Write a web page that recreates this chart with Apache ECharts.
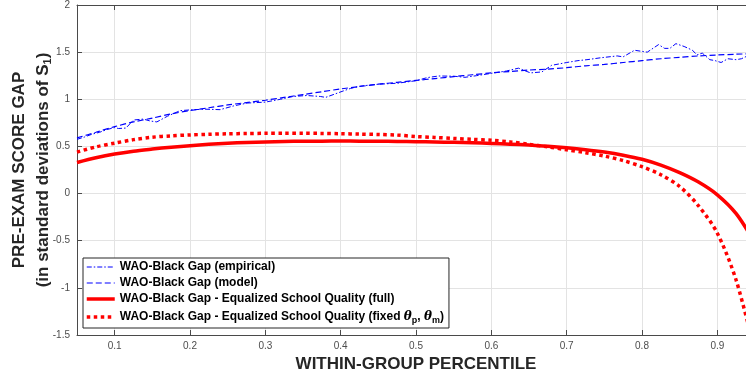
<!DOCTYPE html>
<html>
<head>
<meta charset="utf-8">
<script src="https://cdn.jsdelivr.net/npm/echarts@6/dist/echarts.min.js"></script>
<style>html,body{margin:0;padding:0;background:#fff;}#c{width:746px;height:376px;}</style>
</head>
<body>
<div id="c"></div>
<script>
// ---- data ----
var xTicks = [0.1, 0.2, 0.3, 0.4, 0.5, 0.6, 0.7, 0.8, 0.9];
var empPct = [0.05,0.06,0.07,0.08,0.09,0.10,0.105,0.115,0.125,0.138,0.147,0.156,0.17,0.187,0.205,0.22,0.24,0.258,0.276,0.30,0.32,0.337,0.355,0.373,0.38,0.404,0.413,0.426,0.45,0.475,0.50,0.515,0.53,0.55,0.565,0.58,0.60,0.62,0.636,0.652,0.667,0.68,0.70,0.715,0.727,0.745,0.767,0.775,0.79,0.807,0.822,0.83,0.837,0.845,0.856,0.867,0.873,0.88,0.89,0.897,0.905,0.914,0.925,0.932,0.94,0.95];
var empGap = [0.575,0.60,0.63,0.65,0.68,0.70,0.69,0.695,0.78,0.79,0.77,0.76,0.82,0.88,0.89,0.895,0.89,0.93,0.96,0.97,1.00,1.03,1.04,1.03,1.02,1.09,1.115,1.14,1.16,1.17,1.197,1.23,1.247,1.245,1.233,1.25,1.275,1.30,1.33,1.28,1.29,1.36,1.39,1.41,1.42,1.44,1.46,1.45,1.52,1.50,1.58,1.54,1.54,1.59,1.56,1.52,1.47,1.49,1.42,1.41,1.39,1.43,1.42,1.43,1.46,1.48];
var pct = [0.05,0.075,0.10,0.125,0.15,0.175,0.20,0.225,0.25,0.275,0.30,0.325,0.35,0.375,0.40,0.425,0.45,0.475,0.50,0.525,0.55,0.575,0.60,0.625,0.65,0.675,0.70,0.725,0.75,0.775,0.80,0.825,0.85,0.875,0.90,0.925,0.95];
var modelGap = [0.59,0.65,0.71,0.76,0.80,0.845,0.88,0.91,0.94,0.965,0.99,1.02,1.05,1.08,1.11,1.135,1.16,1.18,1.20,1.22,1.24,1.26,1.28,1.295,1.31,1.32,1.335,1.355,1.37,1.39,1.41,1.43,1.445,1.46,1.47,1.478,1.485];
var fullGap = [0.33,0.38,0.42,0.45,0.472,0.492,0.508,0.522,0.533,0.542,0.548,0.552,0.555,0.556,0.557,0.556,0.555,0.553,0.55,0.547,0.543,0.538,0.532,0.524,0.514,0.501,0.485,0.465,0.44,0.407,0.364,0.302,0.222,0.122,-0.013,-0.213,-0.525];
var fixedGap = [0.44,0.495,0.535,0.572,0.598,0.612,0.622,0.629,0.634,0.637,0.639,0.64,0.64,0.638,0.635,0.631,0.627,0.62,0.605,0.595,0.585,0.575,0.565,0.548,0.522,0.495,0.465,0.434,0.398,0.35,0.285,0.20,0.075,-0.13,-0.42,-0.92,-1.68];
var names = ['WAO-Black Gap (empirical)','WAO-Black Gap (model)','WAO-Black Gap - Equalized School Quality (full)','WAO-Black Gap - Equalized School Quality (fixed'];

function pairs(xs, ys){ return xs.map(function(x,i){ return [x, ys[i]]; }); }

var FONT = '"Liberation Sans", Arial, Helvetica, sans-serif';
var chart = echarts.init(document.getElementById('c'), null, {renderer:'canvas'});
var axisCol = '#4a4a4a';
var option = {
  animation: false,
  backgroundColor: '#fff',
  textStyle: {fontFamily: FONT},
  grid: {left: 77, top: 5, width: 678, height: 330, containLabel: false, outerBoundsMode: 'none'},
  xAxis: [{
    type: 'value', min: 0.05, max: 0.95,
    name: 'WITHIN-GROUP PERCENTILE', nameLocation: 'middle', nameGap: 21, nameMoveOverlap: false,
    nameTextStyle: {fontFamily: FONT, fontWeight: 'bold', fontSize: 17, color: '#262626'},
    axisLine: {show: true, onZero: false, lineStyle: {color: axisCol, width: 1}},
    axisTick: {show: true, inside: true, length: 5, customValues: xTicks, lineStyle: {color: axisCol}},
    axisLabel: {customValues: xTicks, fontSize: 10, color: '#4d4d4d', margin: 6, fontFamily: FONT},
    splitLine: {show: true, lineStyle: {color: '#e3e3e3', width: 1}}
  }, {
    type: 'value', min: 0.05, max: 0.95, position: 'top',
    axisLine: {show: true, onZero: false, lineStyle: {color: axisCol, width: 1}},
    axisTick: {show: true, inside: true, length: 5, customValues: xTicks, lineStyle: {color: axisCol}},
    axisLabel: {show: false},
    splitLine: {show: false}
  }],
  yAxis: {
    type: 'value', min: -1.5, max: 2, interval: 0.5,
    name: '{a|PRE-EXAM SCORE GAP}\n{a|(in standard deviations of S}{s|1}{a|)}',
    nameLocation: 'middle', nameGap: 22, nameRotate: 90, nameMoveOverlap: false,
    nameTextStyle: {
      fontFamily: FONT, fontWeight: 'bold', fontSize: 17, color: '#262626', lineHeight: 24,
      rich: {
        a: {fontFamily: FONT, fontWeight: 'bold', fontSize: 17, color: '#262626', lineHeight: 24},
        s: {fontFamily: FONT, fontWeight: 'bold', fontSize: 11, color: '#262626', lineHeight: 24, padding: [10, 0, 0, 0]}
      }
    },
    axisLine: {show: true, onZero: false, lineStyle: {color: axisCol, width: 1}},
    axisTick: {show: true, inside: true, length: 5, lineStyle: {color: axisCol}},
    axisLabel: {fontSize: 10, color: '#4d4d4d', margin: 7, fontFamily: FONT},
    splitLine: {show: true, lineStyle: {color: '#e3e3e3', width: 1}}
  },
  legend: {
    show: true, orient: 'vertical', left: 83, top: 258,
    itemWidth: 28, itemHeight: 12, itemGap: 4,
    padding: [3, 5, 3, 2],
    backgroundColor: '#fff', borderColor: '#262626', borderWidth: 1,
    data: names,
    formatter: function(n){
      if (n === names[3]) return '{b|' + n + ' }{t|θ}{s|p}{b|, }{t|θ}{s|m}{b|)}';
      return '{b|' + n + '}';
    },
    textStyle: {
      fontFamily: FONT, fontWeight: 'bold', fontSize: 12, color: '#000',
      rich: {
        b: {fontFamily: FONT, fontWeight: 'bold', fontSize: 12, color: '#000', lineHeight: 14},
        t: {fontFamily: '"DejaVu Serif", serif', fontStyle: 'italic', fontSize: 12, color: '#000', lineHeight: 14},
        s: {fontFamily: FONT, fontWeight: 'bold', fontSize: 9, color: '#000', lineHeight: 14, padding: [7, 0, 0, 0]}
      }
    },
    itemStyle: {color: 'rgba(0,0,0,0)', borderWidth: 0, opacity: 0},
    lineStyle: {width: 'inherit', type: 'inherit', opacity: 1}
  },
  series: [
    {name: names[0], type: 'line', data: pairs(empPct, empGap), symbol: 'none', showSymbol: false,
     lineStyle: {color: '#0000ff', width: 1, type: [5, 2, 1.5, 2]}, itemStyle: {color: '#0000ff'}},
    {name: names[1], type: 'line', data: pairs(pct, modelGap), symbol: 'none', showSymbol: false, smooth: 0.3,
     lineStyle: {color: '#0000ff', width: 1.2, type: [6, 3]}, itemStyle: {color: '#0000ff'}},
    {name: names[2], type: 'line', data: pairs(pct, fullGap), symbol: 'none', showSymbol: false, smooth: 0.3,
     lineStyle: {color: '#ff0000', width: 3.5, type: 'solid'}, itemStyle: {color: '#ff0000'}},
    {name: names[3], type: 'line', data: pairs(pct, fixedGap), symbol: 'none', showSymbol: false, smooth: 0.3,
     lineStyle: {color: '#ff0000', width: 3.5, type: 'dotted'}, itemStyle: {color: '#ff0000'}}
  ]
};
chart.setOption(option);
</script>
</body>
</html>
